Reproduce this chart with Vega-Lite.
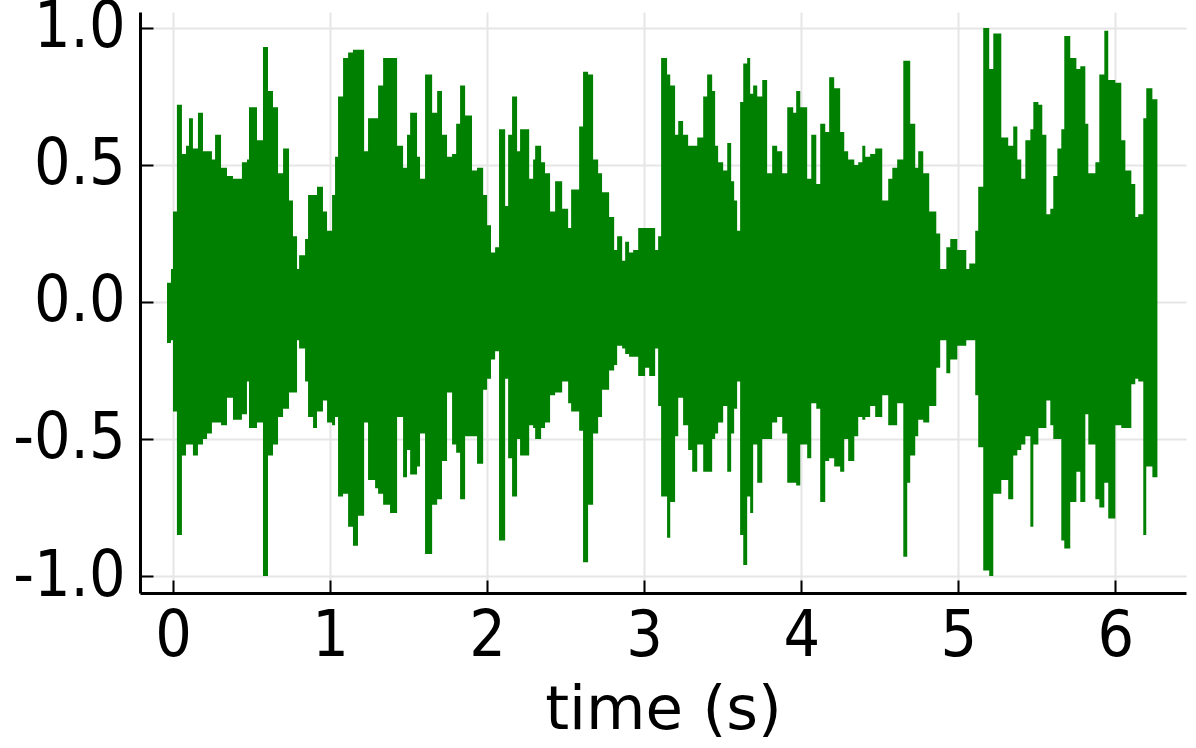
{
 "$schema": "https://vega.github.io/schema/vega-lite/v6.json",
 "width": 1046,
 "height": 581,
 "autosize": {"type": "none"},
 "padding": {"left": 140, "top": 12, "right": 10, "bottom": 155},
 "background": "white",
 "config": {"view": {"stroke": null}, "font": "DejaVu Sans Condensed, DejaVu Sans"},
 "data": {"values": [
  {"t":-0.038,"hi":0.07,"lo":-0.15},{"t":-0.013,"hi":0.12,"lo":-0.14},{"t":0.0,"hi":0.33,"lo":-0.40},{"t":0.025,"hi":0.72,"lo":-0.85},
  {"t":0.057,"hi":0.54,"lo":-0.56},{"t":0.083,"hi":0.57,"lo":-0.52},{"t":0.102,"hi":0.67,"lo":-0.52},{"t":0.127,"hi":0.56,"lo":-0.56},
  {"t":0.159,"hi":0.69,"lo":-0.52},{"t":0.191,"hi":0.55,"lo":-0.50},{"t":0.217,"hi":0.55,"lo":-0.48},{"t":0.248,"hi":0.52,"lo":-0.44},
  {"t":0.268,"hi":0.61,"lo":-0.44},{"t":0.306,"hi":0.49,"lo":-0.45},{"t":0.344,"hi":0.46,"lo":-0.35},{"t":0.382,"hi":0.45,"lo":-0.43},
  {"t":0.439,"hi":0.51,"lo":-0.41},{"t":0.471,"hi":0.52,"lo":-0.29},{"t":0.484,"hi":0.71,"lo":-0.46},{"t":0.535,"hi":0.59,"lo":-0.44},
  {"t":0.573,"hi":0.93,"lo":-1.0},{"t":0.605,"hi":0.77,"lo":-0.56},{"t":0.637,"hi":0.71,"lo":-0.52},{"t":0.669,"hi":0.47,"lo":-0.42},
  {"t":0.701,"hi":0.56,"lo":-0.39},{"t":0.739,"hi":0.37,"lo":-0.33},{"t":0.764,"hi":0.24,"lo":-0.33},{"t":0.790,"hi":0.12,"lo":-0.14},
  {"t":0.803,"hi":0.17,"lo":-0.17},{"t":0.841,"hi":0.23,"lo":-0.29},{"t":0.860,"hi":0.39,"lo":-0.42},{"t":0.892,"hi":0.39,"lo":-0.46},
  {"t":0.917,"hi":0.42,"lo":-0.40},{"t":0.955,"hi":0.33,"lo":-0.36},{"t":0.981,"hi":0.26,"lo":-0.44},{"t":1.013,"hi":0.39,"lo":-0.45},
  {"t":1.032,"hi":0.53,"lo":-0.42},{"t":1.051,"hi":0.75,"lo":-0.71},{"t":1.083,"hi":0.89,"lo":-0.70},{"t":1.115,"hi":0.91,"lo":-0.82},
  {"t":1.146,"hi":0.92,"lo":-0.89},{"t":1.178,"hi":0.92,"lo":-0.78},{"t":1.217,"hi":0.55,"lo":-0.44},{"t":1.242,"hi":0.67,"lo":-0.65},
  {"t":1.287,"hi":0.67,"lo":-0.68},{"t":1.306,"hi":0.79,"lo":-0.70},{"t":1.338,"hi":0.89,"lo":-0.74},{"t":1.382,"hi":0.89,"lo":-0.77},
  {"t":1.427,"hi":0.57,"lo":-0.42},{"t":1.465,"hi":0.49,"lo":-0.64},{"t":1.490,"hi":0.61,"lo":-0.54},{"t":1.510,"hi":0.69,"lo":-0.63},
  {"t":1.554,"hi":0.53,"lo":-0.60},{"t":1.573,"hi":0.45,"lo":-0.48},{"t":1.605,"hi":0.83,"lo":-0.92},{"t":1.650,"hi":0.69,"lo":-0.74},
  {"t":1.682,"hi":0.77,"lo":-0.72},{"t":1.713,"hi":0.61,"lo":-0.58},{"t":1.745,"hi":0.53,"lo":-0.33},{"t":1.777,"hi":0.54,"lo":-0.52},
  {"t":1.803,"hi":0.65,"lo":-0.55},{"t":1.828,"hi":0.79,"lo":-0.72},{"t":1.860,"hi":0.68,"lo":-0.49},{"t":1.904,"hi":0.48,"lo":-0.49},
  {"t":1.936,"hi":0.49,"lo":-0.59},{"t":1.975,"hi":0.39,"lo":-0.32},{"t":2.0,"hi":0.28,"lo":-0.28},{"t":2.025,"hi":0.18,"lo":-0.21},
  {"t":2.051,"hi":0.20,"lo":-0.18},{"t":2.076,"hi":0.63,"lo":-0.87},{"t":2.115,"hi":0.35,"lo":-0.28},{"t":2.134,"hi":0.61,"lo":-0.57},
  {"t":2.159,"hi":0.75,"lo":-0.71},{"t":2.191,"hi":0.55,"lo":-0.50},{"t":2.210,"hi":0.63,"lo":-0.56},{"t":2.268,"hi":0.45,"lo":-0.45},
  {"t":2.293,"hi":0.52,"lo":-0.46},{"t":2.306,"hi":0.57,"lo":-0.50},{"t":2.344,"hi":0.51,"lo":-0.46},{"t":2.369,"hi":0.47,"lo":-0.44},
  {"t":2.401,"hi":0.33,"lo":-0.34},{"t":2.433,"hi":0.44,"lo":-0.33},{"t":2.478,"hi":0.34,"lo":-0.29},{"t":2.516,"hi":0.27,"lo":-0.37},
  {"t":2.535,"hi":0.41,"lo":-0.40},{"t":2.586,"hi":0.64,"lo":-0.47},{"t":2.611,"hi":0.84,"lo":-0.95},{"t":2.643,"hi":0.83,"lo":-0.74},
  {"t":2.675,"hi":0.52,"lo":-0.48},{"t":2.707,"hi":0.47,"lo":-0.42},{"t":2.732,"hi":0.40,"lo":-0.32},{"t":2.777,"hi":0.31,"lo":-0.25},
  {"t":2.809,"hi":0.19,"lo":-0.23},{"t":2.828,"hi":0.24,"lo":-0.16},{"t":2.860,"hi":0.15,"lo":-0.17},{"t":2.879,"hi":0.22,"lo":-0.19},
  {"t":2.904,"hi":0.18,"lo":-0.20},{"t":2.930,"hi":0.19,"lo":-0.20},{"t":2.962,"hi":0.27,"lo":-0.27},{"t":3.006,"hi":0.27,"lo":-0.24},
  {"t":3.032,"hi":0.27,"lo":-0.27},{"t":3.070,"hi":0.19,"lo":-0.17},{"t":3.089,"hi":0.24,"lo":-0.38},{"t":3.108,"hi":0.89,"lo":-0.71},
  {"t":3.146,"hi":0.83,"lo":-0.86},{"t":3.166,"hi":0.79,"lo":-0.73},{"t":3.197,"hi":0.61,"lo":-0.49},{"t":3.217,"hi":0.66,"lo":-0.35},
  {"t":3.248,"hi":0.61,"lo":-0.45},{"t":3.280,"hi":0.57,"lo":-0.54},{"t":3.306,"hi":0.57,"lo":-0.62},{"t":3.338,"hi":0.60,"lo":-0.52},
  {"t":3.376,"hi":0.75,"lo":-0.62},{"t":3.401,"hi":0.83,"lo":-0.62},{"t":3.433,"hi":0.77,"lo":-0.50},{"t":3.452,"hi":0.57,"lo":-0.48},
  {"t":3.471,"hi":0.51,"lo":-0.44},{"t":3.503,"hi":0.48,"lo":-0.38},{"t":3.529,"hi":0.58,"lo":-0.62},{"t":3.554,"hi":0.44,"lo":-0.48},
  {"t":3.573,"hi":0.37,"lo":-0.39},{"t":3.592,"hi":0.26,"lo":-0.29},{"t":3.611,"hi":0.73,"lo":-0.85},{"t":3.631,"hi":0.87,"lo":-0.96},
  {"t":3.656,"hi":0.89,"lo":-0.71},{"t":3.675,"hi":0.76,"lo":-0.77},{"t":3.694,"hi":0.79,"lo":-0.52},{"t":3.720,"hi":0.75,"lo":-0.66},
  {"t":3.752,"hi":0.81,"lo":-0.50},{"t":3.783,"hi":0.47,"lo":-0.50},{"t":3.815,"hi":0.57,"lo":-0.44},{"t":3.847,"hi":0.55,"lo":-0.42},
  {"t":3.879,"hi":0.47,"lo":-0.48},{"t":3.911,"hi":0.71,"lo":-0.66},{"t":3.949,"hi":0.69,"lo":-0.66},{"t":3.968,"hi":0.77,"lo":-0.67},
  {"t":3.994,"hi":0.71,"lo":-0.52},{"t":4.038,"hi":0.45,"lo":-0.57},{"t":4.064,"hi":0.61,"lo":-0.37},{"t":4.096,"hi":0.43,"lo":-0.39},
  {"t":4.121,"hi":0.65,"lo":-0.73},{"t":4.153,"hi":0.62,"lo":-0.58},{"t":4.178,"hi":0.82,"lo":-0.57},{"t":4.210,"hi":0.78,"lo":-0.60},
  {"t":4.248,"hi":0.62,"lo":-0.62},{"t":4.274,"hi":0.55,"lo":-0.50},{"t":4.299,"hi":0.52,"lo":-0.58},{"t":4.338,"hi":0.50,"lo":-0.49},
  {"t":4.363,"hi":0.51,"lo":-0.42},{"t":4.389,"hi":0.57,"lo":-0.43},{"t":4.408,"hi":0.53,"lo":-0.42},{"t":4.439,"hi":0.54,"lo":-0.38},
  {"t":4.471,"hi":0.56,"lo":-0.42},{"t":4.516,"hi":0.37,"lo":-0.34},{"t":4.554,"hi":0.45,"lo":-0.45},{"t":4.580,"hi":0.49,"lo":-0.45},
  {"t":4.611,"hi":0.52,"lo":-0.37},{"t":4.650,"hi":0.88,"lo":-0.93},{"t":4.675,"hi":0.88,"lo":-0.66},{"t":4.694,"hi":0.65,"lo":-0.56},
  {"t":4.726,"hi":0.49,"lo":-0.49},{"t":4.745,"hi":0.55,"lo":-0.43},{"t":4.777,"hi":0.47,"lo":-0.44},{"t":4.815,"hi":0.33,"lo":-0.38},
  {"t":4.860,"hi":0.25,"lo":-0.24},{"t":4.885,"hi":0.12,"lo":-0.14},{"t":4.924,"hi":0.20,"lo":-0.26},{"t":4.949,"hi":0.23,"lo":-0.21},
  {"t":4.994,"hi":0.19,"lo":-0.16},{"t":5.051,"hi":0.12,"lo":-0.14},{"t":5.070,"hi":0.14,"lo":-0.14},{"t":5.108,"hi":0.26,"lo":-0.34},
  {"t":5.127,"hi":0.42,"lo":-0.53},{"t":5.159,"hi":1.0,"lo":-0.98},{"t":5.197,"hi":0.85,"lo":-1.0},{"t":5.223,"hi":0.98,"lo":-0.70},
  {"t":5.274,"hi":0.60,"lo":-0.65},{"t":5.318,"hi":0.57,"lo":-0.72},{"t":5.350,"hi":0.64,"lo":-0.56},{"t":5.376,"hi":0.52,"lo":-0.54},
  {"t":5.401,"hi":0.45,"lo":-0.52},{"t":5.427,"hi":0.59,"lo":-0.49},{"t":5.459,"hi":0.63,"lo":-0.82},{"t":5.478,"hi":0.73,"lo":-0.52},
  {"t":5.510,"hi":0.72,"lo":-0.46},{"t":5.535,"hi":0.61,"lo":-0.46},{"t":5.561,"hi":0.32,"lo":-0.36},{"t":5.586,"hi":0.34,"lo":-0.45},
  {"t":5.605,"hi":0.46,"lo":-0.50},{"t":5.631,"hi":0.56,"lo":-0.50},{"t":5.656,"hi":0.63,"lo":-0.87},{"t":5.675,"hi":0.97,"lo":-0.90},
  {"t":5.713,"hi":0.89,"lo":-0.73},{"t":5.752,"hi":0.85,"lo":-0.62},{"t":5.777,"hi":0.86,"lo":-0.73},{"t":5.809,"hi":0.65,"lo":-0.41},
  {"t":5.828,"hi":0.47,"lo":-0.52},{"t":5.873,"hi":0.51,"lo":-0.72},{"t":5.898,"hi":0.83,"lo":-0.75},{"t":5.930,"hi":0.99,"lo":-0.66},
  {"t":5.955,"hi":0.81,"lo":-0.79},{"t":6.0,"hi":0.80,"lo":-0.45},{"t":6.038,"hi":0.59,"lo":-0.46},{"t":6.064,"hi":0.48,"lo":-0.46},
  {"t":6.102,"hi":0.43,"lo":-0.30},{"t":6.127,"hi":0.31,"lo":-0.28},{"t":6.146,"hi":0.32,"lo":-0.29},{"t":6.178,"hi":0.67,"lo":-0.85},
  {"t":6.197,"hi":0.78,"lo":-0.60},{"t":6.236,"hi":0.74,"lo":-0.64},{"t":6.268,"hi":0.74,"lo":-0.64}
 ]},
 "mark": {"type": "area", "interpolate": "step-after", "color": "#008000", "opacity": 1},
 "encoding": {
  "x": {
   "field": "t", "type": "quantitative",
   "scale": {"domain": [-0.21, 6.45], "nice": false, "zero": false},
   "axis": {
    "title": "time (s)", "values": [0, 1, 2, 3, 4, 5, 6], "format": "d",
    "grid": true, "gridColor": "#e6e6e6", "gridWidth": 2,
    "domainColor": "black", "domainWidth": 3,
    "tickColor": "black", "tickWidth": 2, "tickSize": -13,
    "labelFontSize": 64, "labelColor": "black", "labelPadding": 24, "labelFlush": false,
    "titleFont": "DejaVu Sans", "titleFontSize": 61, "titleFontWeight": "normal", "titleColor": "black", "titlePadding": 12
   }
  },
  "y": {
   "field": "hi", "type": "quantitative",
   "scale": {"domain": [-1.062, 1.058], "nice": false, "zero": false},
   "axis": {
    "title": null, "values": [-1, -0.5, 0, 0.5, 1], "format": ".1f",
    "labelExpr": "replace(datum.label, '\u2212', '-')",
    "grid": true, "gridColor": "#e6e6e6", "gridWidth": 2,
    "domainColor": "black", "domainWidth": 3,
    "tickColor": "black", "tickWidth": 2, "tickSize": -13,
    "labelFontSize": 64, "labelColor": "black", "labelPadding": 28, "labelFlush": false
   }
  },
  "y2": {"field": "lo"}
 }
}
